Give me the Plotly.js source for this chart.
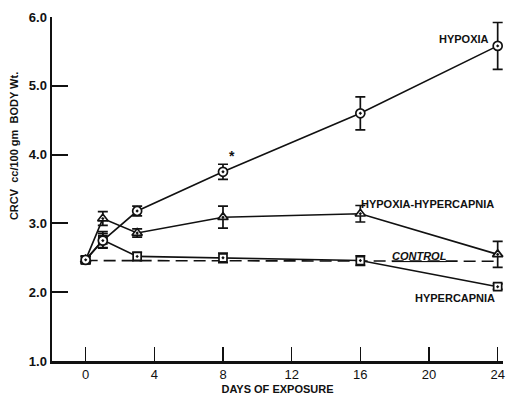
<!DOCTYPE html>
<html>
<head>
<meta charset="utf-8">
<script src="https://cdn.plot.ly/plotly-3.0.1.min.js"></script>
<style>html,body{margin:0;padding:0;background:#fff;}#chart{width:506px;height:395px;}</style>
</head>
<body>
<div id="chart"></div>
<script>
// Days of exposure
var days = [0, 1, 3, 8, 16, 24];
// CRCV cc/100 gm body wt.
var hypoxia = [2.47, 2.75, 3.18, 3.75, 4.60, 5.58];
var hypoxiaErr = [0.05, 0.10, 0.07, 0.11, 0.24, 0.34];
var hypoxiaHypercapnia = [2.47, 3.07, 2.86, 3.09, 3.14, 2.55];
var hypoxiaHypercapniaErr = [0.05, 0.10, 0.06, 0.16, 0.12, 0.19];
var hypercapnia = [2.47, 2.76, 2.52, 2.50, 2.46, 2.08];
var hypercapniaErr = [0.05, 0.12, 0.06, 0.07, 0.07, 0.04];
var controlDays = [0, 24];
var control = [2.46, 2.45];
var xTicks = [0, 4, 8, 12, 16, 20, 24];
var yTicks = [1, 2, 3, 4, 5, 6];

var FONT = 'Liberation Sans, Arial, sans-serif';

function series(name, y, err, symbol, size) {
  return {
    type: 'scatter', mode: 'lines+markers', name: name,
    x: days, y: y,
    line: {color: '#111', width: 1.6},
    marker: {symbol: symbol, size: size, color: '#fff', line: {color: '#111', width: 1.7}},
    error_y: {type: 'data', array: err, visible: true, color: '#111', thickness: 1.7, width: 5},
    cliponaxis: false
  };
}

var traces = [
  {
    type: 'scatter', mode: 'lines', name: 'CONTROL',
    x: controlDays, y: control,
    line: {color: '#111', width: 1.6, dash: '12px,6px'}
  },
  series('HYPERCAPNIA', hypercapnia, hypercapniaErr, 'square-dot', 8),
  series('HYPOXIA-HYPERCAPNIA', hypoxiaHypercapnia, hypoxiaHypercapniaErr, 'triangle-up-dot', 9),
  series('HYPOXIA', hypoxia, hypoxiaErr, 'circle-dot', 9)
];

var lab = {family: FONT, size: 11, color: '#111', weight: 'bold'};

var layout = {
  width: 506, height: 395,
  margin: {l: 52, r: 3, t: 17, b: 34},
  paper_bgcolor: '#fff', plot_bgcolor: '#fff',
  showlegend: false,
  font: {family: FONT, color: '#111'},
  xaxis: {
    range: [-1.96, 24.31],
    tickvals: xTicks, ticktext: xTicks.map(String),
    ticks: 'inside', ticklen: 14, tickwidth: 1.5, tickcolor: '#111',
    showline: true, linewidth: 2.5, linecolor: '#111',
    showgrid: false, zeroline: false,
    tickfont: {family: FONT, size: 13, color: '#111'},
    title: {text: 'DAYS OF EXPOSURE', font: {family: FONT, size: 11, color: '#111', weight: 'bold'}, standoff: 4}
  },
  yaxis: {
    range: [1, 6],
    tickvals: yTicks, ticktext: yTicks.map(function (v) { return v.toFixed(1); }),
    ticks: 'inside', ticklen: 16, tickwidth: 2, tickcolor: '#111',
    showline: true, linewidth: 2.5, linecolor: '#111',
    showgrid: false, zeroline: false,
    tickfont: {family: FONT, size: 13, color: '#111', weight: 'bold'}
  },
  annotations: [
    {xref: 'paper', yref: 'paper', x: -0.084, y: 0.625, text: 'CRCV  cc/100 gm  BODY Wt.', textangle: -90,
     showarrow: false, xanchor: 'center', yanchor: 'middle', font: {family: FONT, size: 11, color: '#111', weight: 'bold'}},
    {x: 23.6, y: 5.68, text: 'HYPOXIA', showarrow: false, xanchor: 'right', yanchor: 'middle', font: lab},
    {x: 15.95, y: 3.28, text: 'HYPOXIA-HYPERCAPNIA', showarrow: false, xanchor: 'left', yanchor: 'middle', font: lab},
    {x: 23.95, y: 1.92, text: 'HYPERCAPNIA', showarrow: false, xanchor: 'right', yanchor: 'middle', font: lab},
    {x: 19.47, y: 2.53, text: '<i><span style="text-decoration:underline">CONTROL</span></i>', showarrow: false, xanchor: 'center', yanchor: 'middle', font: lab},
    {x: 8.54, y: 3.98, text: '*', showarrow: false, xanchor: 'center', yanchor: 'middle', font: {family: FONT, size: 14, color: '#111', weight: 'bold'}}
  ]
};

Plotly.newPlot('chart', traces, layout, {displayModeBar: false, staticPlot: true});
</script>
</body>
</html>
